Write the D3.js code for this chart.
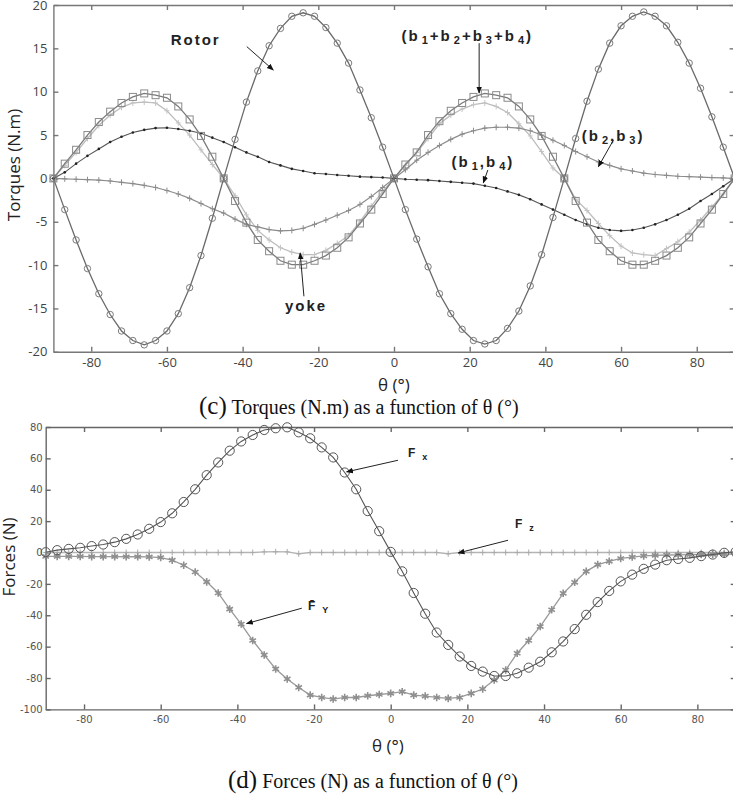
<!DOCTYPE html>
<html>
<head>
<meta charset="utf-8">
<script src="https://cdn.jsdelivr.net/npm/d3@7/dist/d3.min.js"></script>
<style>
  body { margin: 0; background: #fff; }
  .axis path, .axis line { stroke: #777; stroke-width: 1.4; fill: none; }
  .axis--top text { font-family: "Open Sans", sans-serif; font-size: 13px; fill: #444; }
  .axis--bot text { font-family: "DejaVu Sans", sans-serif; font-size: 10px; fill: #555; }
  .axis--bot path, .axis--bot line { stroke: #666; }
  .title { font-family: "Open Sans", sans-serif; font-size: 17px; fill: #222; }
  .note { font-family: "Liberation Sans", Arial, sans-serif; font-weight: bold; fill: #222; }
  .caption { font-family: "Liberation Serif", "Times New Roman", serif; fill: #111; }
</style>
</head>
<body>
<div class="figure"></div>
<script>
var theta = [-90, -87, -84, -81, -78, -75, -72, -69, -66, -63, -60, -57, -54, -51, -48, -45,
  -42, -39, -36, -33, -30, -27, -24, -21, -18, -15, -12, -9, -6, -3, 0, 3, 6, 9, 12, 15,
  18, 21, 24, 27, 30, 33, 36, 39, 42, 45, 48, 51, 54, 57, 60, 63, 66, 69, 72, 75, 78, 81,
  84, 87, 90];

// torques (N.m)
var rotor = [0, -3.6, -7.1, -10.4, -13.3, -15.7, -17.6, -18.7, -19.2, -18.7, -17.6, -15.6, -12.6, -8.9, -4.6,
  0, 4.5, 8.8, 12.4, 15.3, 17.3, 18.7, 19.1, 18.7, 17.4, 15.6, 13.3, 10.2, 7.0, 3.6,
  0, -3.6, -7.0, -10.2, -13.3, -15.6, -17.4, -18.7, -19.1, -18.7, -17.3, -15.3, -12.4, -8.8, -4.5,
  0, 4.6, 8.9, 12.6, 15.6, 17.6, 18.7, 19.2, 18.7, 17.6, 15.7, 13.3, 10.4, 7.1, 3.6, 0];
var bSum = [0, 1.7, 3.3, 5.0, 6.5, 7.7, 8.7, 9.4, 9.8, 9.6, 9.3, 8.3, 6.8, 4.9, 2.5,
  0, -2.6, -5.1, -7.1, -8.4, -9.5, -9.95, -9.95, -9.5, -8.9, -8.0, -6.8, -5.2, -3.6, -1.8,
  0, 1.6, 3.0, 5.0, 6.6, 7.8, 8.7, 9.4, 9.8, 9.6, 9.3, 8.3, 6.8, 4.9, 2.5,
  0, -2.6, -5.1, -7.1, -8.4, -9.5, -9.95, -9.95, -9.5, -8.9, -8.0, -6.8, -5.2, -3.6, -1.8, 0];
var yoke = [0, 1.5, 3.0, 4.6, 6.1, 7.3, 8.2, 8.7, 8.8, 8.7, 7.8, 6.4, 5.0, 3.3, 1.6,
  0, -2.0, -4.2, -6.0, -7.1, -8.0, -8.5, -8.8, -8.8, -8.3, -7.5, -6.6, -5.0, -3.2, -1.5,
  0, 1.5, 3.0, 4.6, 6.3, 7.3, 8.0, 8.5, 8.7, 8.3, 7.6, 6.3, 4.9, 3.1, 1.2,
  0, -2.4, -3.7, -5.2, -6.6, -7.8, -8.6, -8.8, -8.9, -8.1, -7.3, -6.2, -4.8, -3.3, -1.8, 0];
var b1b4 = [0, 0.7, 1.7, 2.6, 3.4, 4.2, 4.8, 5.3, 5.6, 5.8, 5.85, 5.7, 5.5, 5.2, 4.7,
  4.2, 3.6, 3.0, 2.5, 1.9, 1.5, 1.1, 0.85, 0.6, 0.5, 0.4, 0.3, 0.2, 0.15, 0.1,
  0, -0.1, -0.15, -0.2, -0.3, -0.4, -0.5, -0.6, -0.85, -1.1, -1.5, -1.9, -2.4, -3.0, -3.6,
  -4.2, -4.8, -5.3, -5.7, -5.95, -6.05, -5.95, -5.7, -5.3, -4.8, -4.2, -3.5, -2.6, -1.8, -0.9, 0];
var b2b3 = [0, -0.05, -0.1, -0.15, -0.2, -0.3, -0.45, -0.6, -0.8, -1.05, -1.4, -1.8, -2.3, -2.9, -3.5,
  -4.0, -4.7, -5.3, -5.6, -5.9, -6.05, -6.0, -5.75, -5.3, -4.8, -4.25, -3.7, -3.0, -2.1, -1.05,
  0, 1.0, 2.1, 3.0, 3.8, 4.5, 5.1, 5.5, 5.8, 5.9, 5.9, 5.8, 5.5, 5.0, 4.4,
  3.8, 3.1, 2.5, 1.9, 1.5, 1.1, 0.85, 0.6, 0.45, 0.35, 0.25, 0.2, 0.15, 0.1, 0.05, 0];

// forces (N)
var fx = [0.2, 1.5, 2.3, 3.0, 4.1, 5.1, 6.6, 8.7, 11.5, 15.1, 19.4, 25.0, 32.2, 40.3, 49.3,
  57.4, 64.9, 70.8, 74.9, 78.1, 79.2, 79.8, 76.6, 72.8, 67.0, 60.6, 51.0, 40.3, 26.4, 13.6,
  0.4, -12.0, -25.8, -39.0, -51.0, -58.9, -66.3, -72.3, -75.9, -78.7, -78.7, -77.0, -73.4, -69.6, -63.6,
  -56.7, -48.8, -39.7, -31.6, -24.5, -18.4, -14.1, -10.4, -7.7, -4.9, -4.1, -3.4, -2.3, -1.3, -0.2, 0.5];
var fy = [-2.5, -2.5, -2.5, -2.5, -2.6, -2.6, -2.6, -2.7, -2.7, -2.8, -3.2, -4.9, -8.1, -12.4, -18.7,
  -25.8, -36.1, -45.6, -56.1, -65.3, -74.2, -80.6, -86.0, -90.9, -92.4, -93.4, -92.4, -92.4, -91.3, -90.5,
  -89.8, -88.7, -90.9, -91.5, -92.4, -93.0, -92.4, -89.8, -87.0, -81.3, -74.9, -64.2, -56.1, -47.2, -36.5,
  -26.0, -19.0, -12.0, -7.7, -5.6, -3.8, -2.9, -2.2, -1.8, -1.6, -1.5, -1.4, -1.3, -1.2, -1.1, -1.0];
var fz = [0, 0, 0, 0, 0, 0, 0, 0, 0, 0, 0, 0, 0, 0, 0,
  0, 0, 0, 0, 0.4, 0.5, 0.4, -0.8, 0, 0, 0, 0, 0, 0, 0,
  0, 0, 0, 0, 0, -0.8, 0, 0, 0, 0, 0, 0, 0, 0, 0,
  0, 0, 0, 0, 0, 0, 0, 0, 0, 0, 0, 0, 0, 0, 0, 0];

var xTicks = [-80, -60, -40, -20, 0, 20, 40, 60, 80];
var torqueTicks = [-20, -15, -10, -5, 0, 5, 10, 15, 20];
var forceTicks = [-100, -80, -60, -40, -20, 0, 20, 40, 60, 80];

// annotation text, anchored in data units [theta, value]
var torqueNotes = [
  {parts: [['Rotor', 0]], at: [-59, 15.4], from: [-38.9, 15.2], to: [-31.9, 12.5]},
  {parts: [['(b', 0], ['1', 1], ['+b', 0], ['2', 1], ['+b', 0], ['3', 1], ['+b', 0], ['4', 1], [')', 0]],
    at: [2, 15.85], from: [22.5, 15.6], to: [22.5, 9.85]},
  {parts: [['(b', 0], ['1', 1], [',b', 0], ['4', 1], [')', 0]], at: [15.2, 1.3], from: [24.8, 0.97], to: [23.6, -0.5]},
  {parts: [['(b', 0], ['2', 1], [',b', 0], ['3', 1], [')', 0]], at: [49.6, 4.3], from: [58, 4.43], to: [54, 1.35]},
  {parts: [['yoke', 0]], at: [-28.8, -15.3], from: [-23.8, -13.6], to: [-24.8, -8.6]}
];
var forceNotes = [
  {parts: [['F', 0], ['x', 1]], at: [4.5, 60.7], from: [1.9, 58.8], to: [-11.5, 51.4]},
  {parts: [['F', 0], ['z', 1]], at: [32.4, 15.5], from: [30.6, 7.8], to: [17.6, -0.3]},
  {parts: [['F\u0304', 0], ['Y', 1]], at: [-21.6, -36.8], from: [-23.2, -35.5], to: [-37.6, -45.3]}
];

(function () {
  var svg = d3.select('.figure').append('svg')
    .attr('width', 733)
    .attr('height', 800);

  svg.append('defs').append('marker')
      .attr('id', 'arrow')
      .attr('viewBox', '0 0 10 10')
      .attr('refX', 9)
      .attr('refY', 5)
      .attr('markerWidth', 7)
      .attr('markerHeight', 7)
      .attr('markerUnits', 'userSpaceOnUse')
      .attr('orient', 'auto')
    .append('path')
      .attr('d', 'M0,1L10,5L0,9z')
      .attr('fill', '#111');

  var xT = d3.scaleLinear().domain([-90, 90]).range([53.4, 734.6]);
  var yT = d3.scaleLinear().domain([-20, 20]).range([351.8, 5]);
  var xF = d3.scaleLinear().domain([-90, 90]).range([45.7, 735.7]);
  var yF = d3.scaleLinear().domain([-100, 80]).range([709.4, 427]);

  var plain = function (d) { return String(d); };
  var frame = function (cls, x, y, yTicks, padX, padY) {
    var g = svg.append('g').attr('class', 'axis ' + cls);
    g.append('g')
        .attr('transform', 'translate(0,' + y.range()[0] + ')')
        .call(d3.axisBottom(x).tickValues(xTicks).tickSizeInner(-5).tickSizeOuter(0)
          .tickPadding(padX).tickFormat(plain));
    g.append('g')
        .attr('transform', 'translate(0,' + y.range()[1] + ')')
        .call(d3.axisTop(x).tickValues(xTicks).tickSizeInner(-5).tickSizeOuter(0).tickFormat(''));
    g.append('g')
        .attr('transform', 'translate(' + x.range()[0] + ',0)')
        .call(d3.axisLeft(y).tickValues(yTicks).tickSizeInner(-5).tickSizeOuter(0)
          .tickPadding(padY).tickFormat(plain));
    g.append('g')
        .attr('transform', 'translate(' + x.range()[1] + ',0)')
        .call(d3.axisRight(y).tickValues(yTicks).tickSizeInner(-5).tickSizeOuter(0).tickFormat(''));
  };
  frame('axis--top', xT, yT, torqueTicks, 6, 6);
  frame('axis--bot', xF, yF, forceTicks, 7, 3);

  var markers = {
    ring: function (s) { s.append('circle').attr('r', 3.2).attr('fill', 'none'); },
    circle: function (s) { s.append('circle').attr('r', 4.6).attr('fill', 'none'); },
    square: function (s) { s.append('rect').attr('x', -3.5).attr('y', -3.5).attr('width', 7).attr('height', 7).attr('fill', 'none'); },
    plus: function (s) { s.append('path').attr('d', 'M-2.5,0H2.5M0,-3V3'); },
    dot: function (s) { s.append('circle').attr('r', 1.3).attr('stroke', 'none').attr('fill', '#222'); },
    star: function (s) { s.append('path').attr('d', d3.symbol(d3.symbolAsterisk, 40)).attr('stroke-width', 1.6); }
  };

  var drawSeries = function (x, y, values, style) {
    var pts = theta.map(function (t, i) { return [t, values[i]]; });
    var line = d3.line()
      .x(function (d) { return x(d[0]); })
      .y(function (d) { return y(d[1]); });
    var g = svg.append('g').attr('class', 'series');
    g.append('path')
      .attr('d', line(pts))
      .attr('fill', 'none')
      .attr('stroke', style.line)
      .attr('stroke-width', style.width);
    g.selectAll('.mk')
      .data(pts)
      .enter().append('g')
      .attr('class', 'mk')
      .attr('stroke', style.mark)
      .attr('stroke-width', 1)
      .attr('transform', function (d) { return 'translate(' + x(d[0]) + ',' + y(d[1]) + ')'; })
      .each(function () { markers[style.shape](d3.select(this)); });
  };

  drawSeries(xT, yT, yoke, {line: '#bdbdbd', width: 1.3, mark: '#c4c4c4', shape: 'plus'});
  drawSeries(xT, yT, b2b3, {line: '#8c8c8c', width: 1.2, mark: '#8c8c8c', shape: 'plus'});
  drawSeries(xT, yT, b1b4, {line: '#555', width: 1.1, mark: '#222', shape: 'dot'});
  drawSeries(xT, yT, bSum, {line: '#7a7a7a', width: 1.3, mark: '#8a8a8a', shape: 'square'});
  drawSeries(xT, yT, rotor, {line: '#6a6a6a', width: 1.3, mark: '#7a7a7a', shape: 'ring'});

  drawSeries(xF, yF, fz, {line: '#b5b5b5', width: 1.4, mark: '#aaa', shape: 'plus'});
  drawSeries(xF, yF, fy, {line: '#999', width: 1.3, mark: '#8f8f8f', shape: 'star'});
  drawSeries(xF, yF, fx, {line: '#555', width: 1.1, mark: '#555', shape: 'circle'});

  var drawNotes = function (x, y, notes, size, subSize, spacing, gap) {
    var g = svg.append('g').attr('class', 'notes');
    notes.forEach(function (n) {
      g.append('line')
        .attr('x1', x(n.from[0])).attr('y1', y(n.from[1]))
        .attr('x2', x(n.to[0])).attr('y2', y(n.to[1]))
        .attr('stroke', '#222')
        .attr('stroke-width', 1)
        .attr('marker-end', 'url(#arrow)');
      var t = g.append('text')
        .attr('class', 'note')
        .attr('x', x(n.at[0]))
        .attr('y', y(n.at[1]))
        .attr('font-size', size + 'px')
        .attr('letter-spacing', spacing + 'px');
      var low = false;
      n.parts.forEach(function (p) {
        var sp = t.append('tspan').text(p[0]);
        if (p[1]) {
          sp.attr('font-size', subSize + 'px').attr('dx', gap).attr('dy', 3);
          low = true;
        } else if (low) {
          sp.attr('dy', -3);
          low = false;
        }
      });
    });
  };
  drawNotes(xT, yT, torqueNotes, 15, 11, 2, 2);
  drawNotes(xF, yF, forceNotes, 12, 9, 0, 7);

  // axis titles
  svg.append('text')
    .attr('class', 'title')
    .attr('transform', 'translate(20,165) rotate(-90)')
    .style('text-anchor', 'middle')
    .text('Torques (N.m)');
  svg.append('text')
    .attr('class', 'title')
    .attr('x', xT(0))
    .attr('y', 391)
    .style('text-anchor', 'middle')
    .text('\u03b8 (\u00b0)');
  svg.append('text')
    .attr('class', 'title')
    .attr('transform', 'translate(14.5,557) rotate(-90)')
    .style('text-anchor', 'middle')
    .text('Forces (N)');
  svg.append('text')
    .attr('class', 'title')
    .attr('x', 388)
    .attr('y', 752)
    .style('text-anchor', 'middle')
    .text('\u03b8 (\u00b0)');

  // captions
  var cap = function (x, y, tag, rest) {
    var t = svg.append('text').attr('class', 'caption').attr('x', x).attr('y', y);
    t.append('tspan').attr('font-size', '25px').text(tag);
    t.append('tspan').attr('font-size', '20px').text(' ' + rest);
  };
  cap(199, 414, '(c)', 'Torques (N.m) as a function of \u03b8 (\u00b0)');
  cap(228, 788, '(d)', 'Forces (N) as a function of \u03b8 (\u00b0)');
})();
</script>
</body>
</html>
